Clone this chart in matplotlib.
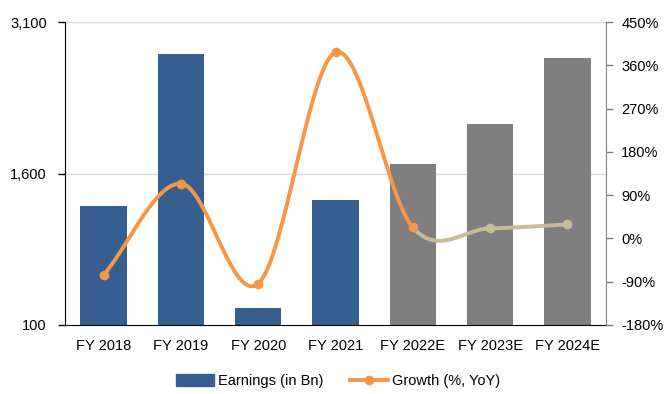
import matplotlib
matplotlib.use("Agg")
import matplotlib.pyplot as plt
import numpy as np
from matplotlib.patches import Patch
from matplotlib.lines import Line2D

plt.rcParams['font.family'] = ['Liberation Sans', 'DejaVu Sans']

categories = ["FY 2018", "FY 2019", "FY 2020", "FY 2021", "FY 2022E", "FY 2023E", "FY 2024E"]
earnings = [1281, 2785, 272, 1338, 1694, 2090, 2745]
growth = [-76, 114, -94, 387, 23, 21, 29]
n_actual = 4  # first four are actuals (blue), rest estimates (grey)

left_ticks = [100, 1600, 3100]
right_ticks = [-180, -90, 0, 90, 180, 270, 360, 450]

BLUE = "#365F91"
GREY = "#7F7F7F"
ORANGE = "#F79646"
BEIGE = "#C4BD97"
FS = 10.5

fig = plt.figure(figsize=(6.69, 3.94), dpi=100)
ax = fig.add_axes([65/669, 69/394, 541/669, 303/394])
ax2 = ax.twinx()

x = np.arange(len(categories))
colors = [BLUE if i < n_actual else GREY for i in range(len(categories))]
ax.bar(x, earnings, width=0.6, color=colors, zorder=2)
ax.set_xlim(-0.5, len(categories) - 0.5)
ax.set_ylim(100, 3100)
ax.set_yticks(left_ticks)
ax.set_yticklabels([f"{v:,}" for v in left_ticks])
ax.set_xticks(x)
ax.set_xticklabels(categories)
for v in left_ticks[1:]:
    ax.axhline(v, color="#D9D9D9", lw=1, zorder=1)

ax.spines["top"].set_visible(False)
ax2.spines["top"].set_visible(False)
ax.spines["right"].set_visible(False)
ax.spines["left"].set_color("black")
ax.spines["bottom"].set_color("black")
ax2.spines["left"].set_visible(False)
ax2.spines["bottom"].set_visible(False)
ax2.spines["right"].set_color("#808080")
ax.tick_params(axis="y", length=5, width=1, color="black", labelsize=FS, pad=8)
ax.tick_params(axis="x", length=0, labelsize=FS, pad=10)
ax2.tick_params(axis="y", length=5, width=1, color="#808080", labelsize=FS, pad=6)

ax2.set_ylim(-180, 450)
ax2.set_yticks(right_ticks)
ax2.set_yticklabels([f"{v}%" for v in right_ticks])

# smooth (Catmull-Rom style) rendering of the growth line
g = np.array(growth, dtype=float)
def tangent(i):
    if i == 0:
        return (g[1] - g[0])
    if i == len(g) - 1:
        return (g[-1] - g[-2])
    return (g[i + 1] - g[i - 1]) / 2.0

def segment(i):
    t = np.linspace(0, 1, 40)
    h00 = 2*t**3 - 3*t**2 + 1
    h10 = t**3 - 2*t**2 + t
    h01 = -2*t**3 + 3*t**2
    h11 = t**3 - t**2
    yy = h00*g[i] + h10*tangent(i) + h01*g[i+1] + h11*tangent(i+1)
    return x[i] + t, yy

split = 4
for i in range(len(g) - 1):
    xs, ys = segment(i)
    c = ORANGE if i < split else BEIGE
    ax2.plot(xs, ys, color=c, lw=2.8, solid_capstyle="round", zorder=3)
ax2.plot(x[:split+1], g[:split+1], "o", color=ORANGE, ms=6, zorder=4)
ax2.plot(x[split+1:], g[split+1:], "o", color=BEIGE, ms=6, zorder=4)

handles = [Patch(facecolor=BLUE, edgecolor=BLUE),
           Line2D([0], [0], color=ORANGE, lw=2.8, marker="o", ms=6)]
fig.legend(handles, ["Earnings (in Bn)", "Growth (%, YoY)"], loc="center",
           bbox_to_anchor=(0.505, 0.033), ncol=2, frameon=False, fontsize=FS,
           handlelength=2.6, handleheight=0.8, handletextpad=0.3, columnspacing=1.8)

fig.savefig("out.png", dpi=100)
